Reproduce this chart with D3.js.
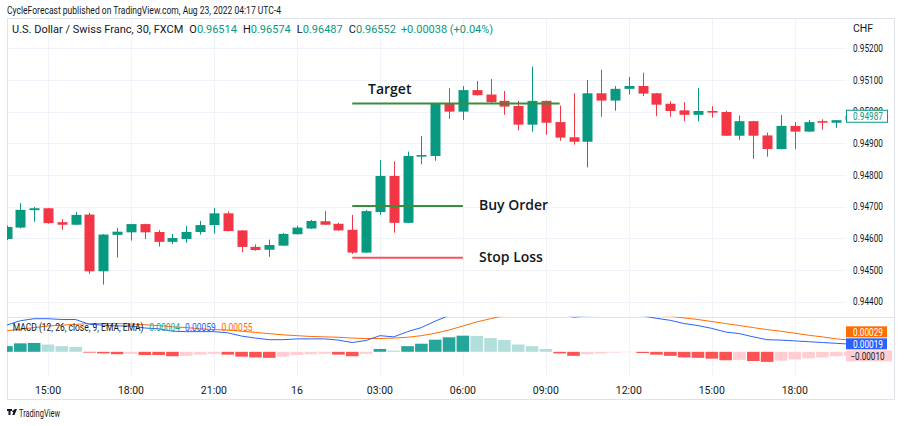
<!DOCTYPE html>
<html><head><meta charset="utf-8">
<script src="https://cdn.jsdelivr.net/npm/d3@7"></script>
<style>body{margin:0;background:#fff}svg{display:block}</style>
</head><body>
<svg id="c" width="904" height="426"></svg>
<script>
// ---------------- DATA ----------------
const startTime = new Date(2022, 7, 15, 13, 30); // first visible 30-min bar
const barMinutes = 30;
const openP  = [0.94598,0.94634,0.94689,0.94695,0.94651,0.94643,0.94675,0.94496,0.94611,0.94619,0.94645,0.94620,0.94589,0.94598,0.94620,0.94642,0.94679,0.94625,0.94573,0.94564,0.94577,0.94613,0.94631,0.94654,0.94646,0.94627,0.94555,0.94683,0.94797,0.94649,0.94858,0.94860,0.95026,0.95000,0.95068,0.95054,0.95034,0.95018,0.94959,0.95034,0.94967,0.94919,0.94905,0.95058,0.95035,0.95072,0.95081,0.95058,0.95025,0.95004,0.94990,0.95002,0.94999,0.94924,0.94970,0.94925,0.94882,0.94955,0.94937,0.94970,0.94965,0.94975];
const highP  = [0.94640,0.94711,0.94699,0.94696,0.94661,0.94683,0.94680,0.94613,0.94633,0.94646,0.94646,0.94626,0.94614,0.94639,0.94655,0.94696,0.94685,0.94626,0.94581,0.94596,0.94617,0.94640,0.94658,0.94686,0.94649,0.94674,0.94689,0.94847,0.94843,0.94874,0.94923,0.95027,0.95074,0.95081,0.95097,0.95103,0.95065,0.95034,0.95142,0.95035,0.95019,0.95058,0.95100,0.95132,0.95081,0.95110,0.95123,0.95059,0.95033,0.95030,0.95075,0.95017,0.95003,0.94988,0.94971,0.94934,0.94989,0.94967,0.94974,0.94976,0.94974,0.94990];
const lowP   = [0.94595,0.94632,0.94652,0.94646,0.94627,0.94642,0.94488,0.94454,0.94539,0.94593,0.94598,0.94574,0.94582,0.94586,0.94612,0.94615,0.94622,0.94557,0.94561,0.94542,0.94576,0.94612,0.94630,0.94642,0.94624,0.94551,0.94553,0.94674,0.94618,0.94648,0.94834,0.94845,0.94977,0.94974,0.95051,0.95025,0.94990,0.94941,0.94937,0.94927,0.94908,0.94896,0.94824,0.94984,0.95003,0.95054,0.95049,0.94986,0.94984,0.94970,0.94970,0.94981,0.94923,0.94911,0.94851,0.94858,0.94881,0.94882,0.94936,0.94943,0.94949,0.94970];
const closeP = [0.94636,0.94690,0.94695,0.94648,0.94643,0.94674,0.94496,0.94612,0.94621,0.94645,0.94619,0.94589,0.94601,0.94620,0.94642,0.94679,0.94623,0.94573,0.94563,0.94579,0.94614,0.94634,0.94655,0.94643,0.94625,0.94555,0.94686,0.94797,0.94649,0.94860,0.94863,0.95026,0.95000,0.95068,0.95052,0.95030,0.95016,0.94959,0.95034,0.94965,0.94918,0.94905,0.95058,0.95035,0.95072,0.95081,0.95057,0.95022,0.95002,0.94990,0.95002,0.94997,0.94924,0.94970,0.94924,0.94882,0.94955,0.94937,0.94967,0.94965,0.94973,0.94987];

const macdLine   = [0.00066,0.00077,0.00082,0.00082,0.00080,0.00080,0.00068,0.00066,0.00064,0.00064,0.00059,0.00057,0.00051,0.00050,0.00050,0.00050,0.00047,0.00039,0.00034,0.00030,0.00030,0.00032,0.00032,0.00032,0.00029,0.00023,0.00028,0.00040,0.00037,0.00050,0.00060,0.00076,0.00090,0.00104,0.00113,0.00116,0.00119,0.00112,0.00112,0.00107,0.00095,0.00086,0.00089,0.00090,0.00091,0.00092,0.00089,0.00083,0.00078,0.00070,0.00065,0.00058,0.00049,0.00045,0.00037,0.00030,0.00029,0.00027,0.00025,0.00023,0.00021,0.00019];
const signalLine = [0.00052,0.00056,0.00060,0.00064,0.00066,0.00068,0.00070,0.00070,0.00070,0.00069,0.00067,0.00065,0.00062,0.00060,0.00057,0.00055,0.00054,0.00051,0.00048,0.00045,0.00042,0.00040,0.00038,0.00037,0.00036,0.00034,0.00033,0.00033,0.00034,0.00036,0.00040,0.00046,0.00054,0.00064,0.00074,0.00082,0.00090,0.00094,0.00098,0.00100,0.00099,0.00096,0.00095,0.00094,0.00093,0.00093,0.00092,0.00090,0.00088,0.00084,0.00080,0.00075,0.00070,0.00065,0.00060,0.00055,0.00051,0.00046,0.00041,0.00037,0.00032,0.00029];
const histogram  = [0.00014,0.00021,0.00022,0.00018,0.00014,0.00012,-0.00002,-0.00004,-0.00006,-0.00005,-0.00008,-0.00008,-0.00011,-0.00010,-0.00007,-0.00005,-0.00007,-0.00012,-0.00014,-0.00015,-0.00012,-0.00008,-0.00006,-0.00005,-0.00007,-0.00011,-0.00005,0.00007,0.00003,0.00014,0.00020,0.00030,0.00036,0.00040,0.00039,0.00034,0.00029,0.00018,0.00014,0.00007,-0.00004,-0.00010,-0.00006,-0.00004,-0.00002,-0.00001,-0.00003,-0.00007,-0.00010,-0.00014,-0.00015,-0.00017,-0.00021,-0.00020,-0.00023,-0.00025,-0.00022,-0.00019,-0.00016,-0.00014,-0.00011,-0.00010];

const priceTicks = [0.944,0.945,0.946,0.947,0.948,0.949,0.950,0.951,0.952];
const annotations = [
  {label:"Target",    price:0.95026, from:25, to:40, color:"#388e3c"},
  {label:"Buy Order", price:0.94702, from:25, to:33, color:"#388e3c"},
  {label:"Stop Loss", price:0.94539, from:25, to:33, color:"#f7525f"}
];
const headerLine1 = "CycleForecast published on TradingView.com, Aug 23, 2022 04:17 UTC-4";
const symbolTitle = "U.S. Dollar / Swiss Franc, 30, FXCM";
const ohlcLegend = [["O","0.96514"],["H","0.96574"],["L","0.96487"],["C","0.96552"]];
const changeText = "+0.00038 (+0.04%)";
const macdTitle = "MACD (12, 26, close, 9, EMA, EMA)";
const macdLegendVals = ["0.00004","0.00059","0.00055"];

// ---------------- LAYOUT ----------------
const L=7, PR=846, AR=895, TOP=18, PB=316.7, MB=376, FB=400;
const UP="#089981", DN="#f23645", GRID="#f0f3fa", BORDER="#e0e3eb", TXT="#131722";
const uiFont="'Liberation Sans Narrow','Arial Narrow',Roboto,sans-serif";

const svg=d3.select("#c");
const times = closeP.map((_,i)=>d3.timeMinute.offset(startTime, i*barMinutes));
const x = d3.scaleTime().domain([times[0], times[times.length-1]]).range([6.5, 850.1]);
const y = d3.scaleLinear().domain([0.944,0.952]).range([301.7,48.3]);
const ym = d3.scaleLinear().domain([-0.0006,0.00087]).range([MB,PB]);

const defs=svg.append("defs");
defs.append("clipPath").attr("id","cp").append("rect").attr("x",L).attr("y",TOP).attr("width",PR-L).attr("height",PB-TOP);
defs.append("clipPath").attr("id","cm").append("rect").attr("x",L).attr("y",PB).attr("width",PR-L).attr("height",MB-PB);

// header
svg.append("text").attr("x",7).attr("y",13.5).attr("font-family",uiFont).attr("font-size",11).attr("fill",TXT)
  .attr("textLength",274).attr("lengthAdjust","spacingAndGlyphs").text(headerLine1);

// grid
const timeTicks = x.ticks(d3.timeHour.every(3));
svg.append("g").selectAll("line").data(timeTicks).join("line")
  .attr("x1",d=>Math.round(x(d))+0.5).attr("x2",d=>Math.round(x(d))+0.5).attr("y1",TOP).attr("y2",MB)
  .attr("stroke",GRID).attr("stroke-width",1);
svg.append("g").selectAll("line").data(priceTicks).join("line")
  .attr("x1",L).attr("x2",PR).attr("y1",d=>Math.round(y(d))+0.5).attr("y2",d=>Math.round(y(d))+0.5)
  .attr("stroke",GRID).attr("stroke-width",1);

// frame
svg.append("rect").attr("x",L+0.5).attr("y",TOP+0.5).attr("width",AR-L-1).attr("height",FB-TOP-1)
  .attr("fill","none").attr("stroke",BORDER);
svg.append("line").attr("x1",L).attr("x2",AR).attr("y1",Math.round(PB)+0.5).attr("y2",Math.round(PB)+0.5).attr("stroke",BORDER);

// symbol legend
const lg=svg.append("text").attr("x",12).attr("y",33).attr("font-family",uiFont).attr("font-size",11).attr("fill",TXT);
lg.append("tspan").text(symbolTitle);
ohlcLegend.forEach(([k,v])=>{ lg.append("tspan").attr("dx",6).text(k); lg.append("tspan").attr("fill",UP).text(v); });
lg.append("tspan").attr("dx",5).attr("fill",UP).text(changeText);

// candles
const cw=10;
const cg=svg.append("g").attr("clip-path","url(#cp)");
const idx=d3.range(closeP.length);
cg.selectAll("line.w").data(idx).join("line").attr("class","w")
  .attr("x1",i=>Math.round(x(times[i]))+0.5).attr("x2",i=>Math.round(x(times[i]))+0.5)
  .attr("y1",i=>y(highP[i])).attr("y2",i=>y(lowP[i]))
  .attr("stroke",i=>closeP[i]>=openP[i]?UP:DN).attr("stroke-width",1);
cg.selectAll("rect.b").data(idx).join("rect").attr("class","b")
  .attr("x",i=>Math.round(x(times[i]))+0.5-cw/2).attr("width",cw)
  .attr("y",i=>y(Math.max(openP[i],closeP[i])))
  .attr("height",i=>Math.max(1,Math.abs(y(openP[i])-y(closeP[i]))))
  .attr("fill",i=>closeP[i]>=openP[i]?UP:DN);

// annotations
const ag=svg.append("g");
annotations.forEach(a=>{
  const t0=d3.timeMinute.offset(startTime,a.from*barMinutes), t1=d3.timeMinute.offset(startTime,a.to*barMinutes);
  ag.append("line").attr("x1",x(t0)).attr("x2",x(t1)).attr("y1",y(a.price)).attr("y2",y(a.price))
    .attr("stroke",a.color).attr("stroke-width",2);
});
const tpos=[{i:0,x:368,y:89},{i:1,x:479,y:205},{i:2,x:479,y:257}];
tpos.forEach(p=>{
  ag.append("text").attr("x",p.x).attr("y",p.y).attr("dy","0.35em").attr("font-family","'Open Sans',sans-serif")
    .attr("font-weight",600).attr("font-size",14).attr("fill",TXT).text(annotations[p.i].label);
});

// price axis
const pa=svg.append("g").attr("font-family",uiFont).attr("font-size",10.5).attr("fill",TXT);
pa.append("text").attr("x",853).attr("y",28).attr("dy","0.35em").text("CHF");
pa.selectAll("text.t").data(priceTicks).join("text").attr("class","t")
  .attr("x",853).attr("y",d=>y(d)).attr("dy","0.35em")
  .attr("textLength",30).attr("lengthAdjust","spacingAndGlyphs").text(d=>d3.format(".5f")(d));

// last price label
const last=closeP[closeP.length-1];
svg.append("rect").attr("x",846.5).attr("y",y(last)-5.5).attr("width",41).attr("height",12)
  .attr("fill","#fff").attr("stroke",UP);
svg.append("text").attr("x",853).attr("y",y(last)+0.5).attr("dy","0.35em").attr("font-family",uiFont).attr("font-size",10.5)
  .attr("textLength",30).attr("lengthAdjust","spacingAndGlyphs").attr("fill",UP).text(d3.format(".5f")(last));

// MACD pane
const mg=svg.append("g").attr("clip-path","url(#cm)");
const hcol=i=>{const h=histogram[i], p=i>0?histogram[i-1]:0;
  return h>=0?(p<h?"#26a69a":"#b2dfdb"):(p<h?"#ffcdd2":"#ff5252");};
const bw=12.6;
mg.selectAll("rect").data(idx).join("rect")
  .attr("x",i=>x(times[i])-bw/2).attr("width",bw)
  .attr("y",i=>Math.min(ym(0),ym(histogram[i]))).attr("height",i=>Math.abs(ym(histogram[i])-ym(0)))
  .attr("fill",hcol);
const ln=arr=>d3.line().x((d,i)=>x(times[i])).y(d=>ym(d))(arr);
mg.append("path").attr("d",ln(signalLine)).attr("fill","none").attr("stroke","#ff6d00").attr("stroke-width",1);
mg.append("path").attr("d",ln(macdLine)).attr("fill","none").attr("stroke","#2962ff").attr("stroke-width",1);

// MACD legend (horizontally condensed group)
const mlg=svg.append("g").attr("transform","translate(12.7,327) scale(0.81,1)");
const ml=mlg.append("text").attr("x",0).attr("y",0).attr("dy","0.35em").attr("font-family",uiFont)
  .attr("font-size",10.5).attr("fill",TXT);
ml.append("tspan").text(macdTitle);
ml.append("tspan").attr("dx",7).attr("fill","#26a69a").text(macdLegendVals[0]);
ml.append("tspan").attr("dx",6).attr("fill","#2962ff").text(macdLegendVals[1]);
ml.append("tspan").attr("dx",7).attr("fill","#ff6d00").text(macdLegendVals[2]);

// MACD axis labels with collision avoidance
const n=closeP.length-1;
let labs=[
  {v:histogram[n], bg:hcol(n), fg:TXT, w:46, tw:34},
  {v:macdLine[n], bg:"#2962ff", fg:"#fff", w:41, tw:30},
  {v:signalLine[n], bg:"#ff6d00", fg:"#fff", w:41, tw:30}
].map(d=>({...d,cy:ym(d.v)})).sort((a,b)=>b.cy-a.cy);
for(let k=1;k<labs.length;k++){ if(labs[k-1].cy-labs[k].cy<12) labs[k].cy=labs[k-1].cy-12; }
labs.forEach(d=>{
  svg.append("rect").attr("x",846).attr("y",d.cy-5.5).attr("width",d.w).attr("height",11).attr("fill",d.bg);
  svg.append("text").attr("x",d.v<0?850.5:853).attr("y",d.cy).attr("dy","0.35em").attr("font-family",uiFont)
    .attr("font-size",10.5).attr("fill",d.fg).attr("textLength",d.tw).attr("lengthAdjust","spacingAndGlyphs")
    .text(d3.format(".5f")(d.v));
});

// time axis
svg.append("g").selectAll("text").data(timeTicks).join("text")
  .attr("x",d=>x(d)).attr("y",390).attr("dy","0.35em").attr("text-anchor","middle")
  .attr("font-family",uiFont).attr("font-size",10.5).attr("fill",TXT)
  .text(d=>d.getHours()===0?d3.timeFormat("%-d")(d):d3.timeFormat("%H:%M")(d));

// footer logo
const fg=svg.append("g");
fg.append("path").attr("d","M7,409 h5 v2 h-1.5 v4 h-2 v-4 h-1.5 z").attr("fill",TXT);
fg.append("circle").attr("cx",13.3).attr("cy",411.3).attr("r",1.1).attr("fill",TXT);
fg.append("path").attr("d","M14.5,409 h2.5 l-2.5,6 h-2.2 z").attr("fill",TXT);
fg.append("text").attr("x",19).attr("y",413).attr("dy","0.35em").attr("font-family",uiFont).attr("font-size",10.5)
  .attr("fill",TXT).attr("textLength",41).attr("lengthAdjust","spacingAndGlyphs").text("TradingView");
</script>
</body></html>
